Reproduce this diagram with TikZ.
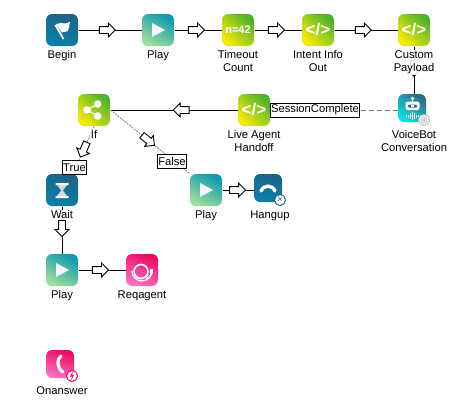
\documentclass[tikz,border=0pt]{standalone}
\usepackage{fontspec}
\setmainfont{Liberation Sans}
\usetikzlibrary{positioning,shapes.arrows}
\definecolor{leafTop}{HTML}{4FB32B}
\definecolor{leafLow}{HTML}{F4E90F}
\definecolor{tealTop}{HTML}{129AB2}
\definecolor{tealLow}{HTML}{9ADD9A}
\definecolor{oceanTop}{HTML}{1B6488}
\definecolor{oceanLow}{HTML}{0A80A8}
\definecolor{pinkTop}{HTML}{EA0A5E}
\definecolor{pinkLow}{HTML}{FF70C6}
\definecolor{botTop}{HTML}{2F6C88}
\definecolor{botLow}{HTML}{10DEE2}

\begin{document}
\begin{tikzpicture}[
    x=1pt, y=-1pt,
    iconBase/.style={rectangle, rounded corners=6pt, minimum size=32pt, inner sep=0pt, outer sep=.5pt, text=white},
    smallBase/.style={iconBase, minimum size=28pt},
    leafFill/.style={top color=leafTop, bottom color=leafLow, shading angle=-45},
    tealFill/.style={top color=tealTop, bottom color=tealLow, shading angle=-30},
    oceanFill/.style={top color=oceanTop, bottom color=oceanLow, shading angle=-20},
    pinkFill/.style={top color=pinkTop, bottom color=pinkLow, shading angle=-20},
    botFill/.style={top color=botTop, bottom color=botLow, shading angle=-35},
    codeFont/.style={font=\fontsize{17}{17}\selectfont\bfseries},
    stepText/.style={font=\fontsize{11.2}{13}\selectfont, align=center, inner sep=1pt, fill=white, fill opacity=.88, text opacity=1},
    flowLine/.style={draw=black, line width=1pt},
    sessionLine/.style={draw=black!55, line width=.9pt, dash pattern=on 5pt off 3pt},
    branchLine/.style={draw=black!55, line width=.7pt, dash pattern=on 2pt off 1pt},
    flowTip/.style={single arrow, draw=black, solid, fill=white, line width=.9pt, pos=.43, sloped, allow upside down, text height=3pt, text depth=3pt, text width=0pt, minimum height=16pt, single arrow head extend=3.5pt, inner sep=0pt, outer sep=0pt},
    caseTag/.style={draw=black, solid, fill=white, line width=.9pt, text=black, font=\fontsize{11.2}{13}\selectfont, minimum height=14pt, inner ysep=0pt, inner xsep=1pt, outer sep=0pt},
    badgeRing/.style={circle, fill=white, line width=1pt, minimum size=11pt, inner sep=0pt},
    flagGlyph/.pic={
        \draw[white, line width=1.8pt] (-6.5,-5) -- (1.5,9);
        \fill[white] (-6,-6) -- (-1,-7) -- (3,-6.5) -- (8,-8) -- (6,1) -- (0,2.5) -- cycle;
    },
    playGlyph/.pic={
        \fill[white!96!black] (-6,-7) -- (7,0) -- (-6,7) -- cycle;
    },
    shareGlyph/.pic={
        \draw[white, line width=1pt] (3.7,-6) -- (-7,0) -- (3.7,6);
        \fill[white] (-7,0) circle (3.8pt) (3.7,-6) circle (3.8pt) (3.7,6) circle (3.8pt);
    },
    sandGlyph/.pic={
        \fill[white] (-6.5,-7) rectangle (6.5,-5) (-6.5,6) rectangle (6.5,8);
        \fill[white!85!black] (-5,-5) -- (5,-5) -- (.8,.5) -- (5,6) -- (-5,6) -- (-.8,.5) -- cycle;
    },
    hangGlyph/.pic={
        \draw[white, line width=3.4pt, line cap=round] (-7,3) .. controls (-4,-3.5) and (4,-3.5) .. (7,3);
    },
    headsetGlyph/.pic={
        \draw[white, line width=1.6pt] (-1,1.5) circle (7pt);
        \draw[white, line width=1.2pt] (-10,1) arc[start angle=180, end angle=360, radius=10pt];
        \fill[white] (7.5,-1) rectangle (10.5,4);
        \draw[white, line width=1pt] (10,4) -- (4,9);
    },
    phoneGlyph/.pic={
        \draw[white, line width=3.2pt, line cap=round] (1,-8) .. controls (-3.5,-5) and (-3.5,4) .. (3,8);
    },
    botGlyph/.pic={
        \fill[white] (0.5,-9.5) circle (1.8pt);
        \draw[white, line width=.8pt] (0.5,-9) -- (0.5,-6);
        \fill[white, rounded corners=2pt] (-6.5,-6.5) rectangle (7.5,2);
        \fill[botTop, rounded corners=1pt] (-4,-3.5) rectangle (5,-.5);
        \fill[white] (-1,-3) rectangle (2,-1);
        \foreach \barX/\barH in {-6/1, -4/1.5, -2/3, 0/4, 2/3, 4/1.5, 6/1}
            \draw[white, line width=1pt] (\barX,8-\barH) -- (\barX,8+\barH);
    }
]
    \useasboundingbox (0,0) rectangle (456,413);

    % Top row
    \node[iconBase, oceanFill] (begin) at (62,30) {};
    \node[iconBase, tealFill] (playMain) at (158,30) {};
    \node[iconBase, leafFill, font=\fontsize{11}{11}\selectfont\bfseries] (timeout) at (238,30) {n=42};
    \node[iconBase, leafFill, codeFont] (intent) at (318,30) {</>};
    \node[iconBase, leafFill, codeFont] (custom) at (414,30) {</>};

    % Second row
    \node[iconBase, leafFill] (branch) at (94,110) {};
    \node[iconBase, leafFill, codeFont] (handoff) at (254,110) {</>};
    \node[smallBase, botFill] (voicebot) at (412,108) {};

    % Left and lower steps
    \node[iconBase, oceanFill] (wait) at (62,190) {};
    \node[iconBase, tealFill] (playFalse) at (206,190) {};
    \node[smallBase, oceanFill] (hangup) at (268,188) {};
    \node[iconBase, tealFill] (playTrue) at (62,270) {};
    \node[iconBase, pinkFill] (reqagent) at (142,270) {};
    \node[smallBase, pinkFill] (onanswer) at (60,364) {};

    % Glyphs
    \pic at (begin) {flagGlyph};
    \pic at (playMain) {playGlyph};
    \pic at (playFalse) {playGlyph};
    \pic at (playTrue) {playGlyph};
    \pic at (branch) {shareGlyph};
    \pic at (wait) {sandGlyph};
    \pic at (hangup) {hangGlyph};
    \pic at (reqagent) {headsetGlyph};
    \pic at (onanswer) {phoneGlyph};
    \pic at (voicebot) {botGlyph};

    % Badges
    \node[badgeRing, draw=oceanTop, font=\fontsize{9}{9}\selectfont, text=oceanTop] (hangupBadge) at (280,200) {×};
    \node[badgeRing, draw=black!25] (voiceBadge) at (424,120) {};
    \draw[black!35, line width=.6pt] (voiceBadge.center) circle (1pt) (voiceBadge.center) circle (3pt);
    \node[badgeRing, draw=pinkTop] (answerBadge) at (72,376) {};
    \fill[pinkTop] (73,371.5) -- (70,376.5) -- (72,376.5) -- (71,380.5) -- (74,375) -- (72.2,375) -- cycle;

    % Connectors
    \draw[flowLine] (begin) -- node[flowTip] (tipA) {} (playMain);
    \draw[flowLine] (playMain) -- node[flowTip] (tipB) {} (timeout);
    \draw[flowLine] (timeout) -- node[flowTip] (tipC) {} (intent);
    \draw[flowLine] (intent) -- node[flowTip] (tipD) {} (custom);
    \draw[flowLine] (custom.south) -- node[flowTip] (tipE) {} ([xshift=2pt]voicebot.north);
    \draw[sessionLine] ([yshift=-2pt]voicebot.west) -- (handoff.east);
    \draw[flowLine] (handoff) -- node[flowTip] (tipF) {} (branch);
    \draw[branchLine] (branch.south) -- node[flowTip, pos=.46] (tipG) {} ([xshift=11pt]wait.north);
    \draw[branchLine] (branch.east) -- node[flowTip, pos=.46] (tipH) {} (playFalse.north west);
    \draw[flowLine] (wait) -- node[flowTip] (tipI) {} (playTrue);
    \draw[flowLine] (playFalse) -- node[flowTip] (tipJ) {} (hangup.west |- playFalse);
    \draw[flowLine] (playTrue) -- node[flowTip] (tipK) {} (reqagent);

    % Connector tags
    \node[caseTag] (sessionTag) at (315,110) {SessionComplete};
    \node[caseTag] (trueTag) at (74.5,167.5) {True};
    \node[caseTag] (falseTag) at (172,161) {False};

    % Step names
    \node[stepText, below=3pt of begin] (beginText) {Begin};
    \node[stepText, below=3pt of playMain] (playMainText) {Play};
    \node[stepText, below=3pt of timeout] (timeoutText) {Timeout\\Count};
    \node[stepText, below=3pt of intent] (intentText) {Intent Info\\Out};
    \node[stepText, below=3pt of custom] (customText) {Custom\\Payload};
    \node[stepText, below=3pt of branch] (branchText) {If};
    \node[stepText, below=3pt of handoff] (handoffText) {Live Agent\\Handoff};
    \node[stepText, below=7pt of voicebot, xshift=2pt] (voicebotText) {VoiceBot\\Conversation};
    \node[stepText, below=3pt of wait] (waitText) {Wait};
    \node[stepText, below=3pt of playFalse] (playFalseText) {Play};
    \node[stepText, below=7pt of hangup, xshift=2pt] (hangupText) {Hangup};
    \node[stepText, below=3pt of playTrue] (playTrueText) {Play};
    \node[stepText, below=3pt of reqagent] (reqagentText) {Reqagent};
    \node[stepText, below=7pt of onanswer, xshift=2pt] (onanswerText) {Onanswer};
\end{tikzpicture}
\end{document}
